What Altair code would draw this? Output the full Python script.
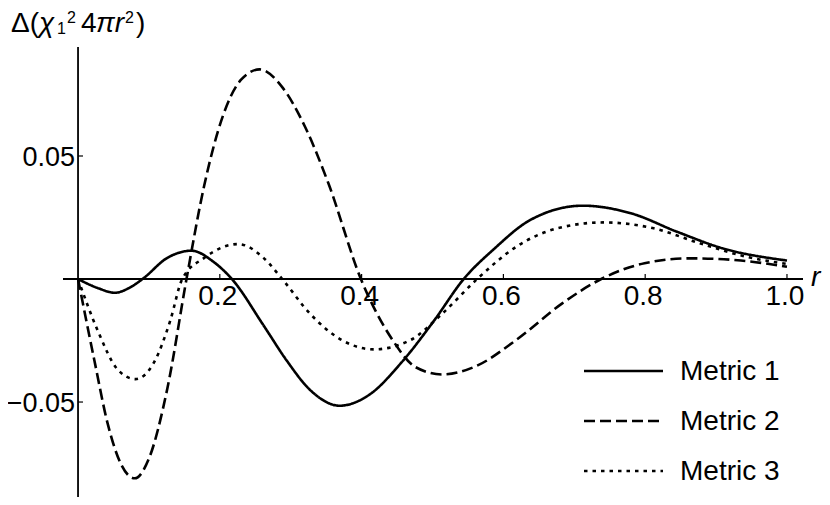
import altair as alt
import pandas as pd

# ---------------- data ----------------
series_names = ["Metric 1", "Metric 2", "Metric 3"]

r1 = [0, 0.029, 0.052, 0.071, 0.091, 0.126, 0.160, 0.191, 0.217, 0.262, 0.294, 0.327,
      0.369, 0.411, 0.456, 0.502, 0.544, 0.586, 0.638, 0.712, 0.78, 0.845, 0.909, 1.0]
m1 = [0, -0.0038, -0.0056, -0.0038, 0, 0.0086, 0.0115, 0.0070, 0, -0.019, -0.033, -0.045,
      -0.0515, -0.047, -0.034, -0.017, 0, 0.012, 0.024, 0.0298, 0.0267, 0.0192, 0.0125, 0.0075]

r2 = [0, 0.023, 0.042, 0.061, 0.080, 0.100, 0.126, 0.153, 0.178, 0.204, 0.230, 0.256, 0.288,
      0.320, 0.353, 0.399, 0.443, 0.476, 0.514, 0.560, 0.618, 0.683, 0.738, 0.799, 0.864,
      0.935, 1.0]
m2 = [0, -0.033, -0.059, -0.0755, -0.081, -0.073, -0.0445, 0, 0.038, 0.066, 0.081, 0.0852,
      0.078, 0.062, 0.039, 0, -0.0245, -0.0358, -0.0388, -0.0356, -0.0248, -0.0099, 0,
      0.0064, 0.0084, 0.0075, 0.005]

r3 = [0, 0.029, 0.055, 0.081, 0.107, 0.130, 0.147, 0.178, 0.226, 0.262, 0.288, 0.327, 0.372,
      0.417, 0.469, 0.514, 0.563, 0.618, 0.676, 0.741, 0.812, 0.877, 0.942, 1.0]
m3 = [0, -0.0218, -0.0365, -0.0407, -0.034, -0.017, 0, 0.0086, 0.0142, 0.0085, 0, -0.014,
      -0.0248, -0.0286, -0.0248, -0.014, 0, 0.0131, 0.0206, 0.023, 0.0206, 0.0145, 0.0091,
      0.0061]

x_ticks = [0.2, 0.4, 0.6, 0.8, 1.0]
x_tick_labels = ["0.2", "0.4", "0.6", "0.8", "1.0"]
y_ticks = [0.05, -0.05]
y_tick_labels = ["0.05", "\u22120.05"]

# ---------------- layout / style ----------------
X_DOM = [-0.0212, 1.0226]
Y_DOM = [-0.0886, 0.0943]
W, H = 740, 450
FONT = "Liberation Sans"
FS = 28
LW = 2.6
dashes = [[1, 0], [11, 5], [3.5, 5]]

xs = alt.Scale(domain=X_DOM, nice=False, zero=False)
ys = alt.Scale(domain=Y_DOM, nice=False, zero=False)

df = pd.concat([
    pd.DataFrame({"r": r1, "v": m1, "series": series_names[0]}),
    pd.DataFrame({"r": r2, "v": m2, "series": series_names[1]}),
    pd.DataFrame({"r": r3, "v": m3, "series": series_names[2]}),
], ignore_index=True)

one = pd.DataFrame({"a": [0]})

lines = alt.Chart(df).mark_line(color="black", strokeWidth=LW, interpolate="monotone").encode(
    x=alt.X("r:Q", scale=xs, axis=None),
    y=alt.Y("v:Q", scale=ys, axis=None),
    strokeDash=alt.StrokeDash("series:N", scale=alt.Scale(domain=series_names, range=dashes),
                              legend=None),
)

x_axis = alt.Chart(one).mark_rule(color="black", strokeWidth=1.8).encode(
    x=alt.X(datum=X_DOM[0], type="quantitative", scale=xs, axis=None),
    x2=alt.X2(datum=X_DOM[1]),
    y=alt.Y(datum=0, type="quantitative", scale=ys, axis=None),
)
y_axis = alt.Chart(one).mark_rule(color="black", strokeWidth=1.8).encode(
    x=alt.X(datum=0, type="quantitative", scale=xs, axis=None),
    y=alt.Y(datum=Y_DOM[0], type="quantitative", scale=ys, axis=None),
    y2=alt.Y2(datum=Y_DOM[1]),
)

df_xt = pd.DataFrame({"t": x_ticks, "lab": x_tick_labels})
df_yt = pd.DataFrame({"t": y_ticks, "lab": y_tick_labels})

x_tickmarks = alt.Chart(df_xt).mark_rule(color="black", strokeWidth=1.2, y2Offset=-5).encode(
    x=alt.X("t:Q", scale=xs, axis=None),
    y=alt.Y(datum=0, type="quantitative", scale=ys, axis=None),
    y2=alt.Y2(datum=0),
)
y_tickmarks = alt.Chart(df_yt).mark_rule(color="black", strokeWidth=1.2, x2Offset=5).encode(
    y=alt.Y("t:Q", scale=ys, axis=None),
    x=alt.X(datum=0, type="quantitative", scale=xs, axis=None),
    x2=alt.X2(datum=0),
)

x_labels = alt.Chart(df_xt).mark_text(
    font=FONT, fontSize=FS, align="center", baseline="alphabetic", dx=-2, dy=26, color="black"
).encode(
    x=alt.X("t:Q", scale=xs, axis=None),
    y=alt.Y(datum=0, type="quantitative", scale=ys, axis=None),
    text="lab:N",
)
y_labels = alt.Chart(df_yt).mark_text(
    font=FONT, fontSize=27, align="right", baseline="alphabetic", dx=-3, dy=10, color="black"
).encode(
    y=alt.Y("t:Q", scale=ys, axis=None),
    x=alt.X(datum=0, type="quantitative", scale=xs, axis=None),
    text="lab:N",
)


def label(txt, px, py, size=FS, style="normal", align="left"):
    return alt.Chart(one).mark_text(
        font=FONT, fontSize=size, fontStyle=style, align=align, baseline="alphabetic",
        color="black"
    ).encode(x=alt.value(px), y=alt.value(py), text=alt.value(txt))


# y-axis title pieces: Δ(χ₁²4πr²)
title_parts = [
    ("\u0394(", -52, -15, FS, "normal"),
    ("\u03c7", -24, -15, FS, "italic"),
    ("1", -6, -13, 16, "normal"),
    ("2", 4, -24, 16, "normal"),
    ("4", 18, -15, FS, "normal"),
    ("\u03c0r", 33, -15, FS, "italic"),
    ("2", 62, -24, 16, "normal"),
    (")", 73, -15, FS, "normal"),
]
title_layers = [label(t, px, py, s, st) for (t, px, py, s, st) in title_parts]

r_label = label("r", 748, 239, FS, "italic")

# legend
leg_line_y = [324, 374, 424]
leg_layers = []
for name, dash, ly in zip(series_names, dashes, leg_line_y):
    leg_layers.append(
        alt.Chart(one).mark_rule(color="black", strokeWidth=LW, strokeDash=dash).encode(
            x=alt.value(521), x2=alt.value(600), y=alt.value(ly)
        )
    )
    leg_layers.append(label(name, 617, ly + 9))

chart = alt.layer(
    x_axis, y_axis, x_tickmarks, y_tickmarks, lines, x_labels, y_labels,
    *title_layers, r_label, *leg_layers
).properties(
    width=W, height=H,
    padding={"left": 55, "top": 39, "right": 19, "bottom": 0},
    autosize=alt.AutoSizeParams(type="none"),
).configure_view(stroke=None)

chart.save("out.html", embed_options={"renderer": "svg", "actions": False})
